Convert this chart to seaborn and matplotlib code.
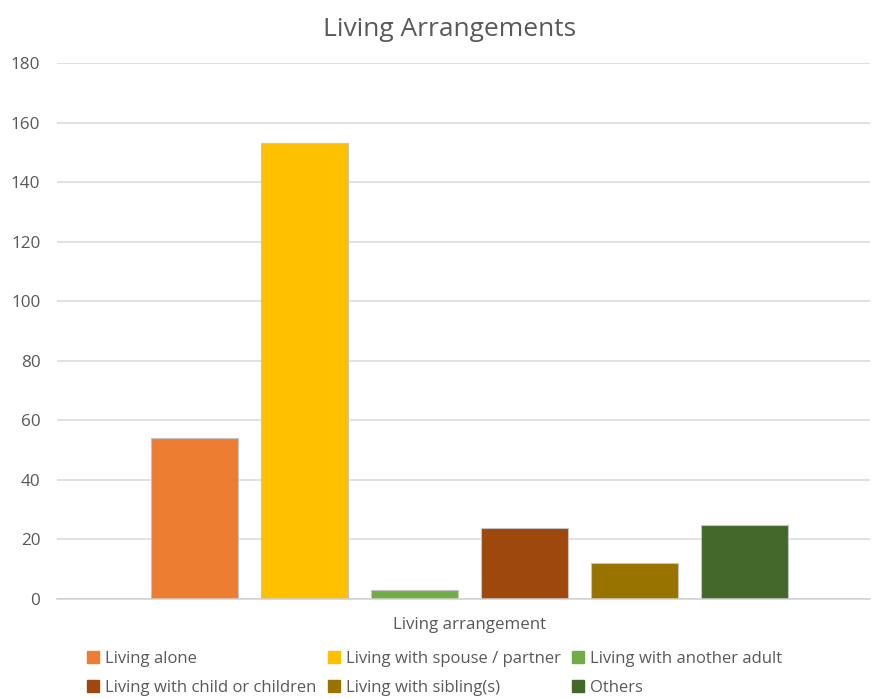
import matplotlib
matplotlib.use("Agg")
import matplotlib.pyplot as plt
from matplotlib.lines import Line2D
import seaborn as sns
import pandas as pd

# Survey counts by living arrangement
arrangements = [
    "Living alone",
    "Living with spouse / partner",
    "Living with another adult",
    "Living with child or children",
    "Living with sibling(s)",
    "Others",
]
counts = [54, 153, 3, 24, 12, 25]
colors = ["#ED7D31", "#FFC000", "#70AD47", "#9E480E", "#997300", "#43682B"]
y_ticks = [0, 20, 40, 60, 80, 100, 120, 140, 160, 180]

sns.set_theme(style="white")
plt.rcParams["font.family"] = ["Open Sans", "DejaVu Sans"]

df = pd.DataFrame({
    "group": ["Living arrangement"] * len(arrangements),
    "arrangement": arrangements,
    "count": counts,
})

fig = plt.figure(figsize=(8.72, 6.99), dpi=100)
ax = fig.add_axes([0.0654, 0.1431, 0.9323, 0.7668])

sns.barplot(
    data=df, x="group", y="count", hue="arrangement",
    hue_order=arrangements, palette=colors, saturation=1, dodge=True,
    width=0.812, gap=0.21, edgecolor="#c4c4c4", linewidth=0.8,
    ax=ax, legend=False,
)

ax.set_ylim(0, 180)
ax.set_yticks(y_ticks)
ax.set_xlim(-0.507, 0.493)
ax.yaxis.grid(True, color="#d9d9d9", linewidth=1.1)
ax.set_axisbelow(True)
for side in ["left", "right", "top"]:
    ax.spines[side].set_visible(False)
ax.spines["bottom"].set_color("#d0d0d0")
ax.spines["bottom"].set_linewidth(1.1)
ax.tick_params(axis="both", length=0, colors="#595959", labelsize=12.3)
ax.tick_params(axis="y", pad=12)
ax.set_xticks([0])
ax.set_xticklabels(["Living arrangement"], fontsize=12.2, color="#595959")
ax.tick_params(axis="x", pad=13)
ax.set_xlabel("")
ax.set_ylabel("")

fig.text(0.516, 0.958, "Living Arrangements", ha="center", va="center",
         fontsize=19, color="#595959")

# Legend laid out row by row: reorder handles for column-major filling
handles = [Line2D([], [], marker="s", linestyle="none", markersize=8.5,
                  markerfacecolor=c, markeredgecolor=c) for c in colors]
order = [0, 3, 1, 4, 2, 5]
leg = fig.legend(
    [handles[i] for i in order], [arrangements[i] for i in order],
    ncol=3, loc="lower left", bbox_to_anchor=(0.082, -0.017),
    frameon=False, fontsize=12, handlelength=0.8, handletextpad=0.3,
    columnspacing=0.66, labelspacing=0.8, labelcolor="#595959",
)

fig.savefig("out.png", dpi=100, facecolor="white")
